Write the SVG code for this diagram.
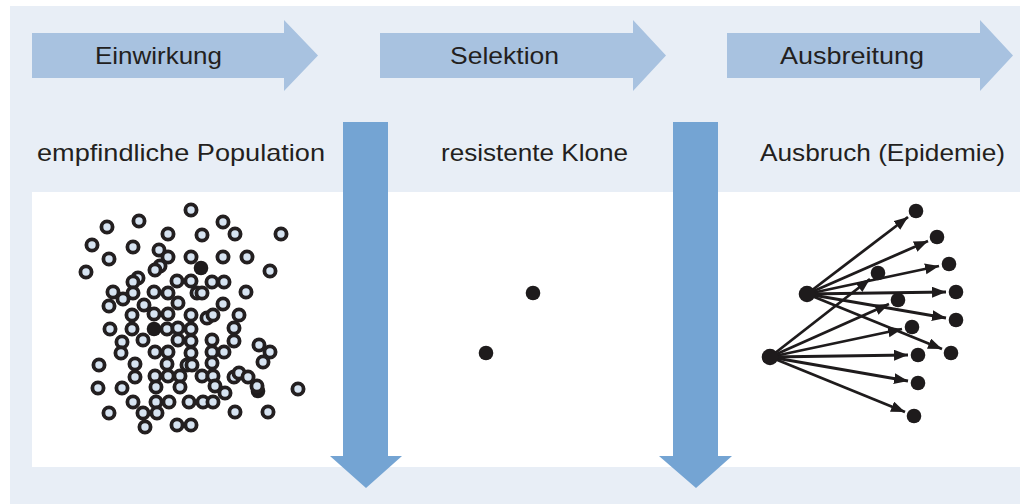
<svg xmlns="http://www.w3.org/2000/svg" width="1020" height="504" viewBox="0 0 1020 504">
<style>
.bg{fill:#e8eef6}
.panel{fill:#ffffff}
.hArrow{fill:#a8c2e0}
.vArrow{fill:#74a4d3}
.t{font-family:"Liberation Sans","DejaVu Sans",sans-serif;font-size:24px;fill:#231f20}
.c{fill:#d6e3f1;stroke:#231f20;stroke-width:3.8}
.d{fill:#1e1b1c}
.e{stroke:#1e1b1c;stroke-width:2.8;fill:none;marker-end:url(#ah)}
</style>
<defs>
<marker id="ah" markerUnits="userSpaceOnUse" markerWidth="16" markerHeight="12" refX="14" refY="5.5" orient="auto">
<path d="M0,0 L14,5.5 L0,11 z" fill="#1e1b1c"/>
</marker>
</defs>
<rect class="bg" x="10" y="6" width="1010" height="498"/>
<rect class="panel" x="32" y="192" width="988" height="275"/>

<g id="step-einwirkung">
<path class="hArrow" d="M32,33 H284 V20 L318,55.5 L284,91 V78 H32 Z"/>
<text class="t" x="95" y="64" textLength="127" lengthAdjust="spacingAndGlyphs">Einwirkung</text>
</g>
<g id="step-selektion">
<path class="hArrow" d="M380,33 H633 V20 L666,55.5 L633,91 V78 H380 Z"/>
<text class="t" x="450" y="64" textLength="109" lengthAdjust="spacingAndGlyphs">Selektion</text>
</g>
<g id="step-ausbreitung">
<path class="hArrow" d="M727,33 H980 V20 L1013,55.5 L980,91 V78 H727 Z"/>
<text class="t" x="780" y="64" textLength="144" lengthAdjust="spacingAndGlyphs">Ausbreitung</text>
</g>

<g id="down-arrow-1">
<path class="vArrow" d="M343,122 H388 V456 H402 L366,488 L330,456 H343 Z"/>
</g>
<g id="down-arrow-2">
<path class="vArrow" d="M673,122 H718 V456 H732 L696,488 L659,456 H673 Z"/>
</g>

<g id="label-population">
<text class="t" x="37" y="161" textLength="288" lengthAdjust="spacingAndGlyphs">empfindliche Population</text>
</g>
<g id="label-klone">
<text class="t" x="441" y="161" textLength="187" lengthAdjust="spacingAndGlyphs">resistente Klone</text>
</g>
<g id="label-ausbruch">
<text class="t" x="760" y="161" textLength="245" lengthAdjust="spacingAndGlyphs">Ausbruch (Epidemie)</text>
</g>

<g id="population">
<circle class="d" cx="258" cy="391" r="7.3"/>
<circle class="c" cx="191" cy="210" r="5.6"/>
<circle class="c" cx="107" cy="227" r="5.6"/>
<circle class="c" cx="139" cy="221" r="5.6"/>
<circle class="c" cx="223" cy="222" r="5.6"/>
<circle class="c" cx="168" cy="234" r="5.6"/>
<circle class="c" cx="202" cy="235" r="5.6"/>
<circle class="c" cx="235" cy="234" r="5.6"/>
<circle class="c" cx="281" cy="234" r="5.6"/>
<circle class="c" cx="92" cy="245" r="5.6"/>
<circle class="c" cx="133" cy="247" r="5.6"/>
<circle class="c" cx="159" cy="250" r="5.6"/>
<circle class="c" cx="168" cy="257" r="5.6"/>
<circle class="c" cx="191" cy="257" r="5.6"/>
<circle class="c" cx="223" cy="257" r="5.6"/>
<circle class="c" cx="247" cy="257" r="5.6"/>
<circle class="c" cx="109" cy="259" r="5.6"/>
<circle class="c" cx="86" cy="272" r="5.6"/>
<circle class="c" cx="160" cy="266" r="5.6"/>
<circle class="c" cx="155" cy="270" r="5.6"/>
<circle class="c" cx="270" cy="271" r="5.6"/>
<circle class="c" cx="138" cy="278" r="5.6"/>
<circle class="c" cx="133" cy="282" r="5.6"/>
<circle class="c" cx="177" cy="281" r="5.6"/>
<circle class="c" cx="191" cy="281" r="5.6"/>
<circle class="c" cx="212" cy="282" r="5.6"/>
<circle class="c" cx="224" cy="282" r="5.6"/>
<circle class="c" cx="113" cy="292" r="5.6"/>
<circle class="c" cx="133" cy="293" r="5.6"/>
<circle class="c" cx="154" cy="292" r="5.6"/>
<circle class="c" cx="168" cy="293" r="5.6"/>
<circle class="c" cx="197" cy="293" r="5.6"/>
<circle class="c" cx="202" cy="293" r="5.6"/>
<circle class="c" cx="246" cy="292" r="5.6"/>
<circle class="c" cx="123" cy="299" r="5.6"/>
<circle class="c" cx="109" cy="306" r="5.6"/>
<circle class="c" cx="144" cy="305" r="5.6"/>
<circle class="c" cx="178" cy="303" r="5.6"/>
<circle class="c" cx="223" cy="304" r="5.6"/>
<circle class="c" cx="132" cy="315" r="5.6"/>
<circle class="c" cx="154" cy="314" r="5.6"/>
<circle class="c" cx="168" cy="314" r="5.6"/>
<circle class="c" cx="191" cy="315" r="5.6"/>
<circle class="c" cx="207" cy="318" r="5.6"/>
<circle class="c" cx="213" cy="315" r="5.6"/>
<circle class="c" cx="239" cy="315" r="5.6"/>
<circle class="c" cx="110" cy="329" r="5.6"/>
<circle class="c" cx="132" cy="329" r="5.6"/>
<circle class="c" cx="167" cy="329" r="5.6"/>
<circle class="c" cx="178" cy="328" r="5.6"/>
<circle class="c" cx="191" cy="329" r="5.6"/>
<circle class="c" cx="234" cy="328" r="5.6"/>
<circle class="c" cx="122" cy="342" r="5.6"/>
<circle class="c" cx="143" cy="340" r="5.6"/>
<circle class="c" cx="178" cy="340" r="5.6"/>
<circle class="c" cx="191" cy="341" r="5.6"/>
<circle class="c" cx="212" cy="340" r="5.6"/>
<circle class="c" cx="234" cy="341" r="5.6"/>
<circle class="c" cx="259" cy="345" r="5.6"/>
<circle class="c" cx="270" cy="352" r="5.6"/>
<circle class="c" cx="121" cy="353" r="5.6"/>
<circle class="c" cx="155" cy="352" r="5.6"/>
<circle class="c" cx="168" cy="352" r="5.6"/>
<circle class="c" cx="191" cy="353" r="5.6"/>
<circle class="c" cx="212" cy="352" r="5.6"/>
<circle class="c" cx="224" cy="352" r="5.6"/>
<circle class="c" cx="263" cy="362" r="5.6"/>
<circle class="c" cx="99" cy="365" r="5.6"/>
<circle class="c" cx="135" cy="364" r="5.6"/>
<circle class="c" cx="167" cy="364" r="5.6"/>
<circle class="c" cx="187" cy="365" r="5.6"/>
<circle class="c" cx="192" cy="365" r="5.6"/>
<circle class="c" cx="212" cy="363" r="5.6"/>
<circle class="c" cx="135" cy="377" r="5.6"/>
<circle class="c" cx="155" cy="376" r="5.6"/>
<circle class="c" cx="168" cy="376" r="5.6"/>
<circle class="c" cx="180" cy="376" r="5.6"/>
<circle class="c" cx="202" cy="376" r="5.6"/>
<circle class="c" cx="213" cy="376" r="5.6"/>
<circle class="c" cx="234" cy="377" r="5.6"/>
<circle class="c" cx="239" cy="373" r="5.6"/>
<circle class="c" cx="248" cy="377" r="5.6"/>
<circle class="c" cx="98" cy="388" r="5.6"/>
<circle class="c" cx="122" cy="388" r="5.6"/>
<circle class="c" cx="156" cy="387" r="5.6"/>
<circle class="c" cx="180" cy="387" r="5.6"/>
<circle class="c" cx="215" cy="386" r="5.6"/>
<circle class="c" cx="225" cy="393" r="5.6"/>
<circle class="c" cx="257" cy="386" r="5.6"/>
<circle class="c" cx="298" cy="389" r="5.6"/>
<circle class="c" cx="133" cy="402" r="5.6"/>
<circle class="c" cx="156" cy="402" r="5.6"/>
<circle class="c" cx="169" cy="402" r="5.6"/>
<circle class="c" cx="189" cy="402" r="5.6"/>
<circle class="c" cx="203" cy="402" r="5.6"/>
<circle class="c" cx="213" cy="402" r="5.6"/>
<circle class="c" cx="109" cy="413" r="5.6"/>
<circle class="c" cx="143" cy="413" r="5.6"/>
<circle class="c" cx="157" cy="413" r="5.6"/>
<circle class="c" cx="235" cy="412" r="5.6"/>
<circle class="c" cx="268" cy="412" r="5.6"/>
<circle class="c" cx="145" cy="427" r="5.6"/>
<circle class="c" cx="177" cy="425" r="5.6"/>
<circle class="c" cx="191" cy="425" r="5.6"/>
<circle class="d" cx="201" cy="268" r="7.3"/>
<circle class="d" cx="154" cy="329" r="7.3"/>
</g>

<g id="resistant-clones">
<circle class="d" cx="533" cy="293" r="7.3"/>
<circle class="d" cx="486" cy="353" r="7.3"/>
</g>

<g id="connectors">
<line class="e" x1="807" y1="294" x2="908" y2="217"/>
<line class="e" x1="807" y1="294" x2="928" y2="241"/>
<line class="e" x1="807" y1="294" x2="939" y2="266"/>
<line class="e" x1="807" y1="294" x2="946" y2="292"/>
<line class="e" x1="807" y1="294" x2="946" y2="318"/>
<line class="e" x1="807" y1="294" x2="942" y2="349"/>
<line class="e" x1="770" y1="357" x2="870" y2="279"/>
<line class="e" x1="770" y1="357" x2="889" y2="304"/>
<line class="e" x1="770" y1="357" x2="902" y2="329"/>
<line class="e" x1="770" y1="357" x2="908" y2="355"/>
<line class="e" x1="770" y1="357" x2="908" y2="381"/>
<line class="e" x1="770" y1="357" x2="905" y2="412"/>
</g>

<g id="outbreak-sources">
<circle class="d" cx="807" cy="294" r="8.3"/>
<circle class="d" cx="770" cy="357" r="8.3"/>
</g>
<g id="outbreak-targets">
<circle class="d" cx="916" cy="211" r="7.3"/>
<circle class="d" cx="937" cy="237" r="7.3"/>
<circle class="d" cx="949" cy="264" r="7.3"/>
<circle class="d" cx="956" cy="292" r="7.3"/>
<circle class="d" cx="956" cy="320" r="7.3"/>
<circle class="d" cx="951" cy="353" r="7.3"/>
<circle class="d" cx="878" cy="273" r="7.3"/>
<circle class="d" cx="898" cy="300" r="7.3"/>
<circle class="d" cx="912" cy="327" r="7.3"/>
<circle class="d" cx="918" cy="355" r="7.3"/>
<circle class="d" cx="918" cy="383" r="7.3"/>
<circle class="d" cx="914" cy="416" r="7.3"/>
</g>
</svg>
